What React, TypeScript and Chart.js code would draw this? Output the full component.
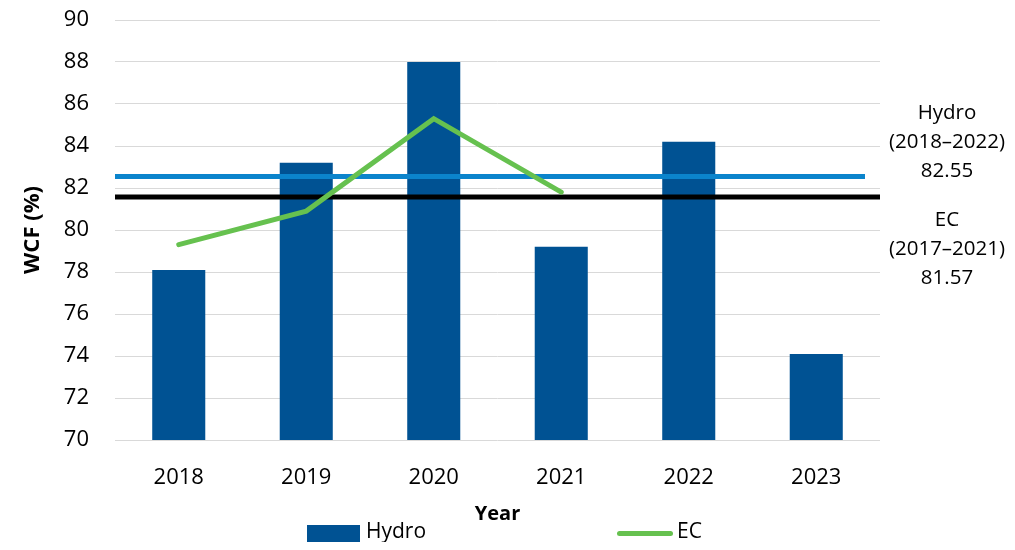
import React, { useEffect, useRef } from "react";
import { Chart, registerables } from "chart.js";

Chart.register(...registerables);

const years = ["2018", "2019", "2020", "2021", "2022", "2023"];
const hydroWCF = [78.1, 83.2, 88.0, 79.2, 84.2, 74.1];
const ecWCF = [79.3, 80.9, 85.3, 81.8, null, null];
const hydroAvg = 82.55;
const ecAvg = 81.57;
const yMin = 70;
const yMax = 90;
const yStep = 2;
const hydroAvgLabel = ["Hydro", "(2018–2022)", "82.55"];
const ecAvgLabel = ["EC", "(2017–2021)", "81.57"];

const FONT = "'Open Sans', 'Noto Sans', sans-serif";
const BAR_COLOR = "#005293";
const EC_COLOR = "#66C14F";
const HYDRO_AVG_COLOR = "#0B84CC";

const refLines = {
  id: "refLines",
  afterDatasetDraw(chart: any, args: any) {
    if (args.index !== 0) return;
    const { ctx, chartArea, scales } = chart;
    const y = scales.y;
    ctx.save();
    ctx.lineWidth = 5;
    ctx.lineCap = "butt";
    let py = y.getPixelForValue(hydroAvg);
    ctx.strokeStyle = HYDRO_AVG_COLOR;
    ctx.beginPath();
    ctx.moveTo(chartArea.left, py);
    ctx.lineTo(chartArea.right - 15, py);
    ctx.stroke();
    py = y.getPixelForValue(ecAvg);
    ctx.strokeStyle = "#000000";
    ctx.beginPath();
    ctx.moveTo(chartArea.left, py);
    ctx.lineTo(chartArea.right, py);
    ctx.stroke();
    ctx.restore();
  },
};

export default function App() {
  const canvasRef = useRef<HTMLCanvasElement | null>(null);

  useEffect(() => {
    if (!canvasRef.current) return;
    Chart.defaults.font.family = FONT;
    Chart.defaults.color = "#000";
    const chart = new Chart(canvasRef.current, {
      type: "bar",
      data: {
        labels: years,
        datasets: [
          {
            type: "bar",
            label: "Hydro",
            data: hydroWCF,
            backgroundColor: BAR_COLOR,
            barPercentage: 0.416,
            categoryPercentage: 1,
            order: 2,
          },
          {
            type: "line",
            label: "EC",
            data: ecWCF,
            borderColor: EC_COLOR,
            backgroundColor: EC_COLOR,
            borderWidth: 5,
            borderCapStyle: "round",
            borderJoinStyle: "miter",
            pointRadius: 0,
            tension: 0,
            spanGaps: false,
            order: 1,
          },
        ],
      } as any,
      options: {
        responsive: false,
        animation: false,
        layout: { padding: { top: 12, right: 127, bottom: 16, left: 0 } },
        plugins: {
          legend: { display: false },
          tooltip: { enabled: false },
        },
        scales: {
          x: {
            grid: { display: false, drawTicks: false },
            border: { display: false },
            ticks: { font: { size: 22 }, padding: 25, color: "#000" },
            title: {
              display: true,
              text: "Year",
              font: { size: 20, weight: "bold" },
              padding: { top: 0, bottom: 0 },
              color: "#000",
            },
            afterFit: (s: any) => {
              s.height = 86;
            },
          },
          y: {
            min: yMin,
            max: yMax,
            grid: {
              color: "#d9d9d9",
              lineWidth: 1,
              drawTicks: true,
              tickLength: 26,
              tickColor: "rgba(0,0,0,0)",
            },
            border: { display: false },
            ticks: { stepSize: yStep, font: { size: 22, lineHeight: 1 }, padding: 0, color: "#000" },
            title: {
              display: true,
              text: "WCF (%)",
              font: { size: 22, weight: "bold" },
              padding: { top: 12, bottom: 0 },
              color: "#000",
            },
            afterFit: (s: any) => {
              s.width = 107;
            },
          },
        },
      } as any,
      plugins: [refLines],
    });
    return () => chart.destroy();
  }, []);

  const textStyle: React.CSSProperties = {
    fontFamily: FONT,
    fontSize: 20.5,
    lineHeight: "29px",
    color: "#000",
    whiteSpace: "nowrap",
  };

  return (
    <div style={{ position: "relative", width: 999, height: 534 }}>
      <canvas ref={canvasRef} width={999} height={534} style={{ display: "block" }} />
      <div style={{ ...textStyle, position: "absolute", left: 874, width: 130, top: 89, textAlign: "center" }}>
        {hydroAvgLabel.map((t, i) => (
          <div key={i}>{t}</div>
        ))}
      </div>
      <div style={{ ...textStyle, position: "absolute", left: 874, width: 130, top: 196, textAlign: "center" }}>
        {ecAvgLabel.map((t, i) => (
          <div key={i}>{t}</div>
        ))}
      </div>
      <div style={{ position: "absolute", left: 299, top: 517, width: 53, height: 17, background: BAR_COLOR }} />
      <div style={{ ...textStyle, fontSize: 21, lineHeight: "21px", position: "absolute", left: 358, top: 512 }}>Hydro</div>
      <div
        style={{
          position: "absolute",
          left: 609,
          top: 523,
          width: 56,
          height: 5,
          borderRadius: 3,
          background: EC_COLOR,
        }}
      />
      <div style={{ ...textStyle, fontSize: 21, lineHeight: "21px", position: "absolute", left: 669, top: 512 }}>EC</div>
    </div>
  );
}
